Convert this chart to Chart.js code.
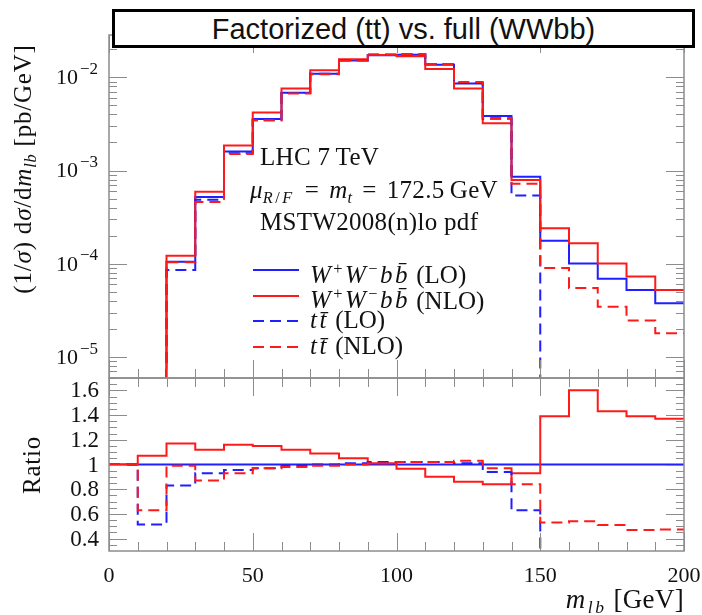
<!DOCTYPE html>
<html lang="en">
<head>
<meta charset="UTF-8">
<title>Factorized (tt) vs. full (WWbb)</title>
<script src="https://cdn.jsdelivr.net/npm/chart.js"></script>
<style>
    body { margin: 0; background: #fff; }
    .page {
        position: relative;
        width: 702px;
        height: 615px;
        overflow: hidden;
        font-family: "Liberation Serif", "DejaVu Serif", serif;
        color: #111;
    }
    canvas { position: absolute; left: 0; top: 0; }
    .title-box {
        position: absolute;
        left: 112px; top: 9px;
        width: 583px; height: 39px;
        box-sizing: border-box;
        border: 3px solid #000;
        background: #fff;
        font-family: "Liberation Sans", Arial, sans-serif;
        font-size: 29px;
        line-height: 34px;
        text-align: center;
        z-index: 5;
    }
    .note { position: absolute; font-size: 25px; line-height: 28px; white-space: nowrap; letter-spacing: 0.3px; }
    .op { margin: 0 10px; }
    .math { letter-spacing: 2.5px; }
    .legend { position: absolute; left: 253px; top: 255px; font-size: 25px; }
    .legend .row { position: relative; height: 25.5px; white-space: nowrap; }
    .legend svg { position: absolute; left: 0; top: 13px; }
    .legend span.txt { position: absolute; left: 57px; top: 0; line-height: 28px; }
    .ytitle {
        position: absolute;
        width: 320px; line-height: 28px;
        text-align: center;
        font-size: 25px;
        letter-spacing: 0.8px;
        white-space: nowrap;
        transform: rotate(-90deg);
    }
    sub, sup { font-size: 65%; }
    sub { vertical-align: -0.3em; }
    sup { vertical-align: 0.55em; }
</style>
</head>
<body>
<div class="page">
    <canvas id="topChart" width="702" height="615"></canvas>
    <canvas id="ratioChart" width="702" height="615"></canvas>

    <div class="title-box">Factorized (tt) vs. full (WWbb)</div>

    <div class="note" style="left:260px; top:143px;">LHC 7&#8201;TeV</div>
    <div class="note" style="left:250px; top:176px;"><i>&mu;</i><sub class="math"><i>R</i>/<i>F</i></sub><span class="op">=</span><i>m</i><sub><i>t</i></sub><span class="op">=</span>172.5&#8201;GeV</div>
    <div class="note" style="left:260px; top:208px;">MSTW2008(n)lo pdf</div>

    <div class="legend">
        <div class="row"><svg width="46" height="4"><line x1="0" y1="2" x2="46" y2="2" stroke="#1f1fff" stroke-width="2"/></svg><span class="txt"><span class="math"><i>W</i><sup>+</sup><i>W</i><sup>&minus;</sup><i>b</i><i>b&#772;</i></span> (LO)</span></div>
        <div class="row"><svg width="46" height="4"><line x1="0" y1="2" x2="46" y2="2" stroke="#ff1a1a" stroke-width="2"/></svg><span class="txt"><span class="math"><i>W</i><sup>+</sup><i>W</i><sup>&minus;</sup><i>b</i><i>b&#772;</i></span> (NLO)</span></div>
        <div class="row"><svg width="46" height="4"><line x1="0" y1="2" x2="46" y2="2" stroke="#1f1fff" stroke-width="2" stroke-dasharray="11 6"/></svg><span class="txt"><span class="math"><i>t</i><i>t&#772;</i></span> (LO)</span></div>
        <div class="row"><svg width="46" height="4"><line x1="0" y1="2" x2="46" y2="2" stroke="#ff1a1a" stroke-width="2" stroke-dasharray="11 6"/></svg><span class="txt"><span class="math"><i>t</i><i>t&#772;</i></span> (NLO)</span></div>
    </div>

    <div class="ytitle" style="left:-133px; top:151px;">(1/<i>&sigma;</i>) d<i>&sigma;</i>/d<i>m</i><sub><i>lb</i></sub> [pb/GeV]</div>
    <div class="ytitle" style="left:-128px; top:451px;">Ratio</div>
    <div class="note" style="right:18px; top:585px; font-size:27px;"><span class="math"><i>m</i><sub><i>lb</i></sub></span>&nbsp;[GeV]</div>
</div>

<script>
    // lower edges of the 10 GeV bins in m_lb
    const binLow = [0, 10, 20, 30, 40, 50, 60, 70, 80, 90, 100, 110, 120, 130, 140, 150, 160, 170, 180, 190];
    const binWidth = 10;

    // normalised distributions (1/sigma) dsigma/dm_lb [pb/GeV]; 1e-7 = below the axis
    const wwbbLO  = [1e-7, 1e-7, 1.05e-4, 5.2e-4, 1.6e-3, 3.57e-3, 6.84e-3, 1.09e-2, 1.51e-2, 1.72e-2, 1.74e-2, 1.36e-2, 8.6e-3, 3.85e-3, 8.6e-4, 1.77e-4, 1.01e-4, 6.9e-5, 5.25e-5, 3.78e-5];
    const wwbbNLO = [1e-7, 1e-7, 1.22e-4, 5.94e-4, 1.85e-3, 4.18e-3, 7.6e-3, 1.19e-2, 1.56e-2, 1.73e-2, 1.68e-2, 1.23e-2, 7.6e-3, 3.21e-3, 7.9e-4, 2.41e-4, 1.66e-4, 1.01e-4, 7.3e-5, 5.25e-5];
    const ttLO    = [1e-7, 1e-7, 8.6e-5, 4.85e-4, 1.53e-3, 3.46e-3, 6.77e-3, 1.09e-2, 1.52e-2, 1.75e-2, 1.77e-2, 1.39e-2, 8.7e-3, 3.6e-3, 5.4e-4, 1e-7, 1e-7, 1e-7, 1e-7, 1e-7];
    const ttNLO   = [1e-7, 1e-7, 1.04e-4, 4.6e-4, 1.5e-3, 3.46e-3, 6.7e-3, 1.08e-2, 1.51e-2, 1.74e-2, 1.78e-2, 1.39e-2, 8.9e-3, 3.65e-3, 7.2e-4, 9e-5, 5.5e-5, 3.47e-5, 2.46e-5, 1.8e-5];

    // ratios to W+W-bb (LO)
    const ratioWwbbLO  = [1, 1, 1, 1, 1, 1, 1, 1, 1, 1, 1, 1, 1, 1, 1, 1, 1, 1, 1, 1];
    const ratioWwbbNLO = [1.0, 1.07, 1.17, 1.12, 1.16, 1.15, 1.12, 1.09, 1.05, 1.01, 0.965, 0.90, 0.86, 0.84, 0.93, 1.39, 1.60, 1.43, 1.39, 1.37];
    const ratioTtLO    = [1.0, 0.515, 0.83, 0.93, 0.955, 0.97, 0.99, 1.0, 1.01, 1.02, 1.02, 1.02, 1.01, 0.94, 0.63, 0, 0, 0, 0, 0];
    const ratioTtNLO   = [1.0, 0.63, 0.99, 0.87, 0.93, 0.97, 0.98, 0.99, 1.0, 1.01, 1.02, 1.02, 1.03, 0.97, 0.84, 0.53, 0.54, 0.51, 0.47, 0.475];

    // tick labels
    const xTickLabels = [0, 50, 100, 150, 200];
    const logTickExponents = [-2, -3, -4, -5];
    const ratioTickLabels = ['1.6', '1.4', '1.2', '1', '0.8', '0.6', '0.4'];

    const BLUE = '#1f1fff';
    const RED = '#ff1a1a';
    const DASH = [11, 6];
    const AXIS_GRAY = '#8c8c8c';
    const LABEL_FONT = '"Liberation Serif", "DejaVu Serif", serif';

    function steps(values) {
        const pts = binLow.map((x, i) => ({ x: x, y: values[i] }));
        pts.push({ x: binLow[binLow.length - 1] + binWidth, y: values[values.length - 1] });
        return pts;
    }

    function series(label, values, color, dashed) {
        return {
            label: label,
            data: steps(values),
            borderColor: color,
            borderWidth: 2,
            borderDash: dashed ? DASH : [],
            stepped: 'before',
            pointRadius: 0,
            fill: false
        };
    }

    function strokeLine(ctx, x1, y1, x2, y2) {
        ctx.beginPath();
        ctx.moveTo(x1, y1);
        ctx.lineTo(x2, y2);
        ctx.stroke();
    }

    // frame, inward ticks and tick labels for both panels
    const panelDecor = {
        id: 'panelDecor',
        afterDatasetsDraw(chart, args, opts) {
            const ctx = chart.ctx;
            const a = chart.chartArea;
            const xs = chart.scales.x;
            const ys = chart.scales.y;

            ctx.save();
            ctx.strokeStyle = AXIS_GRAY;
            ctx.lineWidth = 1;
            for (let v = 0; v <= 200; v += 10) {
                const px = Math.round(xs.getPixelForValue(v)) + 0.5;
                const len = v % 50 === 0 ? 18 : 9;
                strokeLine(ctx, px, a.bottom, px, a.bottom - len);
                strokeLine(ctx, px, a.top, px, a.top + len);
            }
            opts.yTicks.forEach(t => {
                const py = Math.round(ys.getPixelForValue(t.v)) + 0.5;
                if (py < a.top || py > a.bottom) return;
                const len = t.major ? 18 : 8;
                strokeLine(ctx, a.left, py, a.left + len, py);
                strokeLine(ctx, a.right, py, a.right - len, py);
            });
            ctx.lineWidth = 1.5;
            ctx.strokeRect(a.left, a.top, a.right - a.left, a.bottom - a.top);
            ctx.restore();

            ctx.save();
            ctx.fillStyle = '#111';
            ctx.textBaseline = 'middle';
            if (opts.kind === 'log') {
                logTickExponents.forEach(e => {
                    const py = ys.getPixelForValue(Math.pow(10, e));
                    ctx.font = '17px ' + LABEL_FONT;
                    ctx.textAlign = 'right';
                    const sup = '\u2212' + Math.abs(e);
                    const w = ctx.measureText(sup).width;
                    ctx.fillText(sup, 98, py - 8);
                    ctx.font = '22px ' + LABEL_FONT;
                    ctx.fillText('10', 98 - w - 2, py + 1);
                });
            } else {
                ctx.font = '23px ' + LABEL_FONT;
                ctx.textAlign = 'right';
                ratioTickLabels.forEach(lbl => {
                    ctx.fillText(lbl, 99, ys.getPixelForValue(parseFloat(lbl)) + 1);
                });
                ctx.font = '22px ' + LABEL_FONT;
                ctx.textAlign = 'center';
                xTickLabels.forEach(v => {
                    ctx.fillText(String(v), xs.getPixelForValue(v), 576);
                });
            }
            ctx.restore();
        }
    };

    const logTicks = [];
    for (let e = -6; e <= -2; e++) {
        for (let k = 1; k <= 9; k++) logTicks.push({ v: k * Math.pow(10, e), major: k === 1 });
    }
    const ratioTicks = [];
    for (let k = 6; k <= 34; k++) ratioTicks.push({ v: k * 0.05, major: k % 4 === 0 });

    const xAxis = { type: 'linear', display: false, min: 0, max: 200 };

    new Chart(document.getElementById('topChart'), {
        type: 'line',
        data: {
            datasets: [
                series('tt (NLO)', ttNLO, RED, true),
                series('tt (LO)', ttLO, BLUE, true),
                series('WWbb (NLO)', wwbbNLO, RED, false),
                series('WWbb (LO)', wwbbLO, BLUE, false)
            ]
        },
        options: {
            responsive: false,
            animation: false,
            layout: { padding: { left: 109, right: 18, top: 35, bottom: 237 } },
            plugins: {
                legend: { display: false },
                tooltip: { enabled: false },
                panelDecor: { kind: 'log', yTicks: logTicks }
            },
            scales: {
                x: xAxis,
                y: { type: 'logarithmic', display: false, min: 5.96e-6, max: 2.84e-2 }
            }
        },
        plugins: [panelDecor]
    });

    new Chart(document.getElementById('ratioChart'), {
        type: 'line',
        data: {
            datasets: [
                series('tt (NLO)', ratioTtNLO, RED, true),
                series('tt (LO)', ratioTtLO, BLUE, true),
                series('WWbb (NLO)', ratioWwbbNLO, RED, false),
                series('WWbb (LO)', ratioWwbbLO, BLUE, false)
            ]
        },
        options: {
            responsive: false,
            animation: false,
            layout: { padding: { left: 109, right: 18, top: 378, bottom: 64 } },
            plugins: {
                legend: { display: false },
                tooltip: { enabled: false },
                panelDecor: { kind: 'ratio', yTicks: ratioTicks }
            },
            scales: {
                x: xAxis,
                y: { type: 'linear', display: false, min: 0.30, max: 1.70 }
            }
        },
        plugins: [panelDecor]
    });
</script>
</body>
</html>
